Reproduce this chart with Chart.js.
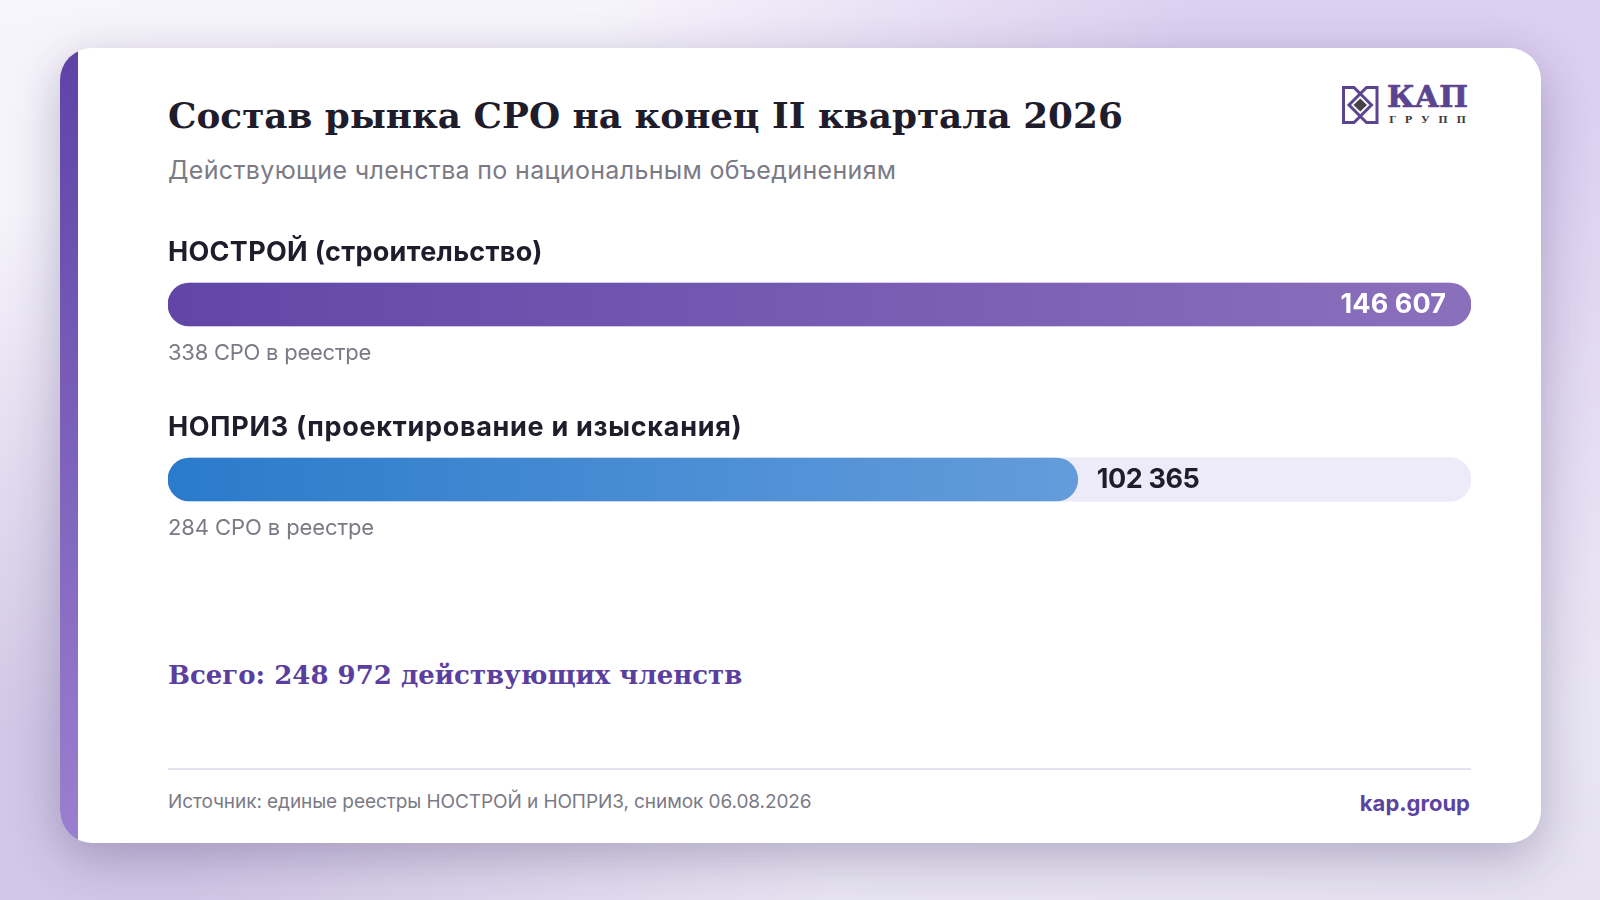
<!DOCTYPE html>
<html lang="ru"><head><meta charset="utf-8">
<script src="https://cdn.jsdelivr.net/npm/chart.js@4"></script>
<style>
html,body{margin:0;padding:0;width:1600px;height:900px;overflow:hidden}
body{position:relative;background:radial-gradient(ellipse 800px 700px at 1400px 30px,#dccff0 25%,#dccff000 100%),radial-gradient(ellipse 800px 650px at 30px 860px,#d2c7e6 20%,#d2c7e600 100%),linear-gradient(170deg,#f7f5fc 0%,#f4f2fa 30%,#e6e2f1 100%);font-family:Inter,sans-serif}
#card{position:absolute;left:60px;top:48px;width:1481px;height:795px;background:#fff;border-radius:32px;box-shadow:0 14px 50px rgba(50,35,90,.30);overflow:hidden}
#strip{position:absolute;left:0;top:0;width:18px;height:100%;background:linear-gradient(180deg,#5e42a6,#9b80d0)}
.t{position:absolute;white-space:nowrap;line-height:1}
#title{left:168px;top:94px;font:700 35.8px "DejaVu Serif",serif;color:#1f1d2b}
#sub{left:168px;top:155px;font:400 25px Inter,sans-serif;color:#7b7a85;letter-spacing:.33px}
#total{left:168px;top:660px;font:700 26px "DejaVu Serif",serif;color:#5b3fa0}
#rule{position:absolute;left:168px;top:768px;width:1303px;height:2px;background:#e4e2ee}
#src{left:168px;top:790px;font:400 19px Inter,sans-serif;color:#7b7a85;letter-spacing:-.08px}
#site{right:130px;top:790px;font:700 22px Inter,sans-serif;color:#5b44a0}
#c{position:absolute;left:168px;top:217px}
#logo{position:absolute;left:1340px;top:84px}
</style></head><body>
<div id="card"><div id="strip"></div></div>
<div class="t" id="title">Состав рынка СРО на конец II квартала 2026</div>
<div class="t" id="sub">Действующие членства по национальным объединениям</div>
<svg id="logo" width="132" height="42" viewBox="0 0 132 42">
<g fill="none" stroke="#5b4590" stroke-width="3" stroke-linejoin="miter">
<path d="M14 3.5H3.5V38.5H14L31.5 21Z"/>
<path d="M26.5 3.5H37V38.5H26.5L9 21Z"/>
</g>
<path d="M20.25 14.5L27 21L20.25 27.5L13.5 21Z" fill="#45424c"/>
<text x="47" y="23" font-family="DejaVu Serif" font-weight="700" font-size="29" fill="#5b4590" stroke="#5b4590" stroke-width=".7" textLength="81" lengthAdjust="spacingAndGlyphs">КАП</text>
<text x="49" y="39" font-family="DejaVu Serif" font-weight="700" font-size="10" fill="#3c3a44" textLength="77">ГРУПП</text>
</svg>
<canvas id="c" width="1303" height="350"></canvas>
<div class="t" id="total">Всего: 248 972 действующих членств</div>
<div id="rule"></div>
<div class="t" id="src">Источник: единые реестры НОСТРОЙ и НОПРИЗ, снимок 06.08.2026</div>
<div class="t" id="site">kap.group</div>
<script>
const categories = ["НОСТРОЙ (строительство)", "НОПРИЗ (проектирование и изыскания)"];
const members = [146607, 102365];
const registerNotes = ["338 СРО в реестре", "284 СРО в реестре"];
const valueLabels = ["146 607", "102 365"];
const trackValues = [146607, 146607];
const gradientStops = [["#6146a8", "#8a70bc"], ["#2a7bcb", "#649cdb"]];

const barGradient = ctx => {
  const chart = ctx.chart, a = chart.chartArea;
  if (!a) return gradientStops[ctx.dataIndex][0];
  const x1 = chart.scales.x.getPixelForValue(members[ctx.dataIndex]);
  const g = chart.ctx.createLinearGradient(a.left, 0, x1, 0);
  g.addColorStop(0, gradientStops[ctx.dataIndex][0]);
  g.addColorStop(1, gradientStops[ctx.dataIndex][1]);
  return g;
};

const nameSpacing = ["0.3px", "0.7px"];
const noteSpacing = ["-0.25px", "-0.1px"];
const valueSpacing = ["0.1px", "-0.4px"];

const textPlugin = {
  id: "rowText",
  afterDatasetsDraw(chart) {
    const {ctx, scales: {x, y}} = chart;
    ctx.save();
    ctx.textBaseline = "middle";
    categories.forEach((name, i) => {
      const cy = y.getPixelForValue(i);
      const vx = x.getPixelForValue(members[i]);
      ctx.textAlign = "left";
      ctx.font = "700 27px Inter";
      ctx.fillStyle = "#1f1d2b";
      ctx.letterSpacing = nameSpacing[i];
      ctx.fillText(name, 0, cy - 51.5);
      ctx.font = "400 22px Inter";
      ctx.fillStyle = "#7b7a85";
      ctx.letterSpacing = noteSpacing[i];
      ctx.fillText(registerNotes[i], 0, cy + 49);
      ctx.font = "700 27px Inter";
      ctx.letterSpacing = valueSpacing[i];
      if (i === 0) { ctx.textAlign = "right"; ctx.fillStyle = "#ffffff"; ctx.fillText(valueLabels[i], vx - 25, cy); }
      else { ctx.textAlign = "left"; ctx.fillStyle = "#1f1d2b"; ctx.fillText(valueLabels[i], vx + 19, cy); }
    });
    ctx.restore();
  }
};

new Chart(document.getElementById("c"), {
  type: "bar",
  data: {
    labels: categories,
    datasets: [
      {data: members, backgroundColor: barGradient, barThickness: 43, borderRadius: 22, borderSkipped: false, grouped: false, order: 1},
      {data: trackValues, backgroundColor: "#eeebf9", barThickness: 44, borderRadius: 22, borderSkipped: false, grouped: false, order: 2}
    ]
  },
  options: {
    indexAxis: "y", responsive: false, animation: false, devicePixelRatio: 1,
    layout: {padding: 0},
    plugins: {legend: {display: false}, tooltip: {enabled: false}},
    scales: {
      x: {display: false, min: 0, max: 146607},
      y: {display: false}
    }
  },
  plugins: [textPlugin]
});
</script>
</body></html>
